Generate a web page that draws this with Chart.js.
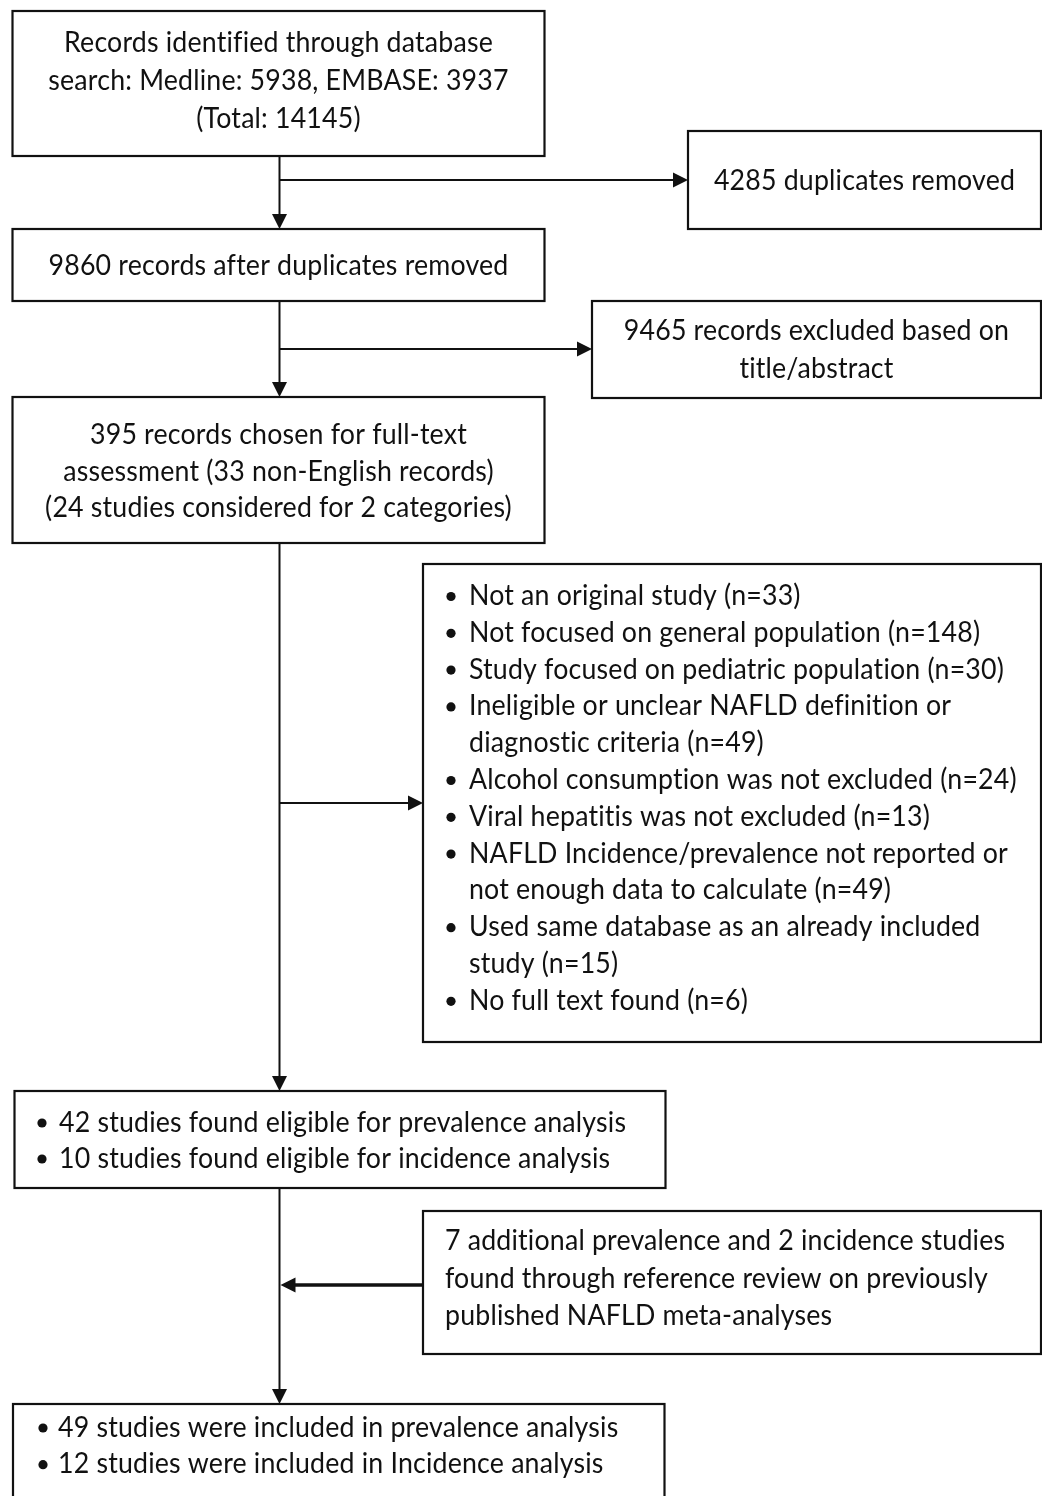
<!DOCTYPE html>
<html>
<head>
<meta charset="utf-8">
<script src="https://cdn.jsdelivr.net/npm/chart.js@4.4.1/dist/chart.umd.min.js"></script>
<style>
  body { margin: 0; background: #fff; }
  #wrap { width: 1042px; height: 1496px; }
</style>
</head>
<body>
<div id="wrap"><canvas id="flow" width="1042" height="1496"></canvas></div>
<script>
// flow counts
const searchCounts = [5938, 3937, 14145];          // Medline, EMBASE, total
const duplicateCounts = [4285, 9860];              // removed, remaining
const screenCounts = [9465, 395, 33, 24];          // excluded, full-text, non-English, 2 categories
const exclusionReasons = [
  ["Not an original study"],
  ["Not focused on general population"],
  ["Study focused on pediatric population"],
  ["Ineligible or unclear NAFLD definition or", "diagnostic criteria"],
  ["Alcohol consumption was not excluded"],
  ["Viral hepatitis was not excluded"],
  ["NAFLD Incidence/prevalence not reported or", "not enough data to calculate"],
  ["Used same database as an already included", "study"],
  ["No full text found"]
];
const exclusionCounts = [33, 148, 30, 49, 24, 13, 49, 15, 6];
const eligibleCounts = [42, 10];                   // prevalence, incidence
const additionalCounts = [7, 2];
const includedCounts = [49, 12];

// text per box
const boxTexts = {
  search: ["Records identified through database",
           `search: Medline: ${searchCounts[0]}, EMBASE: ${searchCounts[1]}`,
           `(Total: ${searchCounts[2]})`],
  dups: [`${duplicateCounts[0]} duplicates removed`],
  afterDups: [`${duplicateCounts[1]} records after duplicates removed`],
  titleExcl: [`${screenCounts[0]} records excluded based on`, "title/abstract"],
  fullText: [`${screenCounts[1]} records chosen for full-text`,
             `assessment (${screenCounts[2]} non-English records)`,
             `(${screenCounts[3]} studies considered for 2 categories)`],
  eligible: [`${eligibleCounts[0]} studies found eligible for prevalence analysis`,
             `${eligibleCounts[1]} studies found eligible for incidence analysis`],
  additional: [`${additionalCounts[0]} additional prevalence and ${additionalCounts[1]} incidence studies`,
               "found through reference review on previously",
               "published NAFLD meta-analyses"],
  included: [`${includedCounts[0]} studies were included in prevalence analysis`,
             `${includedCounts[1]} studies were included in Incidence analysis`]
};

// exclusion list -> bullet items (last line carries the count)
const exclusionItems = exclusionReasons.map((lines, i) => {
  const out = lines.slice();
  out[out.length - 1] += ` (n=${exclusionCounts[i]})`;
  return out;
});

// layout (value units == pixels of the 1042x1496 frame)
const MAIN_X = 279.5;
const RIGHT = 1041;
const boxes = [
  { key: "search",     x0: 12.5, x1: 544.5, y0: 11,   y1: 156,  mode: "center", base: 51.5, step: 38.3 },
  { key: "dups",       x0: 688,  x1: RIGHT, y0: 131,  y1: 229,  mode: "center", base: 190,  step: 38 },
  { key: "afterDups",  x0: 12.5, x1: 544.5, y0: 229,  y1: 301,  mode: "center", base: 275,  step: 38 },
  { key: "titleExcl",  x0: 592,  x1: RIGHT, y0: 301,  y1: 398,  mode: "center", base: 340,  step: 38 },
  { key: "fullText",   x0: 12.5, x1: 544.5, y0: 397,  y1: 543,  mode: "center", base: 444,  step: 36.5 },
  { key: "exclusions", x0: 423,  x1: RIGHT, y0: 564,  y1: 1042, mode: "bullet", base: 605,  step: 36.8, bx: 451, tx: 469 },
  { key: "eligible",   x0: 14.5, x1: 665.5, y0: 1091, y1: 1188, mode: "bullet", base: 1131.5, step: 36, bx: 42, tx: 59 },
  { key: "additional", x0: 423,  x1: RIGHT, y0: 1211, y1: 1354, mode: "left",   base: 1250, step: 37.5, tx: 445 },
  { key: "included",   x0: 13,   x1: 664.5, y0: 1404, y1: 1510, mode: "bullet", base: 1436.5, step: 36.7, bx: 43, tx: 58 }
];
const connectors = [
  { from: [MAIN_X, 156],  to: [MAIN_X, 229],  w: 2 },
  { from: [MAIN_X, 180],  to: [688, 180],     w: 2 },
  { from: [MAIN_X, 301],  to: [MAIN_X, 397],  w: 2 },
  { from: [MAIN_X, 349],  to: [592, 349],     w: 2 },
  { from: [MAIN_X, 543],  to: [MAIN_X, 1091], w: 2 },
  { from: [MAIN_X, 803],  to: [423, 803],     w: 2 },
  { from: [MAIN_X, 1188], to: [MAIN_X, 1404], w: 2 },
  { from: [423, 1285],    to: [MAIN_X + 1, 1285], w: 3.5 }
];

const FONT_PX = 29;
const FONT = `${FONT_PX}px Lato, "Open Sans", sans-serif`;
const REF_LINE = boxTexts.afterDups[0];
const REF_WIDTH = 460; // width of that line in the reference

const flowPlugin = {
  id: "flow",
  afterDraw(chart) {
    const { ctx, scales } = chart;
    const X = v => scales.x.getPixelForValue(v);
    const Y = v => scales.y.getPixelForValue(v);
    ctx.save();
    ctx.font = FONT;
    if ("letterSpacing" in ctx) ctx.letterSpacing = "0.2px"; // also keeps "ti" from ligating
    const sx = Math.min(1, REF_WIDTH / ctx.measureText(REF_LINE).width);

    function text(str, x, y, mode) {
      const w = ctx.measureText(str).width * sx;
      const left = mode === "center" ? x - w / 2 : x;
      ctx.save();
      ctx.translate(left, y);
      ctx.scale(sx, 1);
      ctx.textAlign = "left";
      ctx.textBaseline = "alphabetic";
      ctx.fillText(str, 0, 0);
      ctx.restore();
    }
    function bullet(x, y) {
      ctx.beginPath();
      ctx.arc(x, y - 8.5, 4.6, 0, Math.PI * 2);
      ctx.fill();
    }

    ctx.strokeStyle = "#111";
    ctx.fillStyle = "#111";

    // connectors + arrowheads
    connectors.forEach(c => {
      const x0 = X(c.from[0]), y0 = Y(c.from[1]);
      const x1 = X(c.to[0]), y1 = Y(c.to[1]);
      const ang = Math.atan2(y1 - y0, x1 - x0);
      const len = 15, half = 7.5;
      ctx.lineWidth = c.w;
      ctx.beginPath();
      ctx.moveTo(x0, y0);
      ctx.lineTo(x1 - Math.cos(ang) * (len - 1), y1 - Math.sin(ang) * (len - 1));
      ctx.stroke();
      ctx.beginPath();
      ctx.moveTo(x1, y1);
      ctx.lineTo(x1 - Math.cos(ang) * len - Math.sin(ang) * half, y1 - Math.sin(ang) * len + Math.cos(ang) * half);
      ctx.lineTo(x1 - Math.cos(ang) * len + Math.sin(ang) * half, y1 - Math.sin(ang) * len - Math.cos(ang) * half);
      ctx.closePath();
      ctx.fill();
    });

    // boxes + text
    boxes.forEach(b => {
      ctx.lineWidth = 2.2;
      ctx.strokeRect(X(b.x0), Y(b.y0), X(b.x1) - X(b.x0), Y(b.y1) - Y(b.y0));
      const cx = X((b.x0 + b.x1) / 2);
      let y = b.base;
      if (b.key === "exclusions") {
        exclusionItems.forEach(item => {
          item.forEach((line, j) => {
            if (j === 0) bullet(X(b.bx), Y(y));
            text(line, X(b.tx), Y(y), "left");
            y += b.step;
          });
        });
        return;
      }
      boxTexts[b.key].forEach(line => {
        if (b.mode === "center") text(line, cx, Y(y), "center");
        else {
          if (b.mode === "bullet") bullet(X(b.bx), Y(y));
          text(line, X(b.tx), Y(y), "left");
        }
        y += b.step;
      });
    });
    ctx.restore();
  }
};

new Chart(document.getElementById("flow"), {
  type: "scatter",
  data: { datasets: [{ data: [], pointRadius: 0 }] },
  options: {
    responsive: false,
    animation: false,
    events: [],
    layout: { padding: 0 },
    plugins: { legend: { display: false }, tooltip: { enabled: false } },
    scales: {
      x: { type: "linear", min: 0, max: 1042, display: false },
      y: { type: "linear", min: 0, max: 1496, reverse: true, display: false }
    }
  },
  plugins: [flowPlugin]
});
</script>
</body>
</html>
